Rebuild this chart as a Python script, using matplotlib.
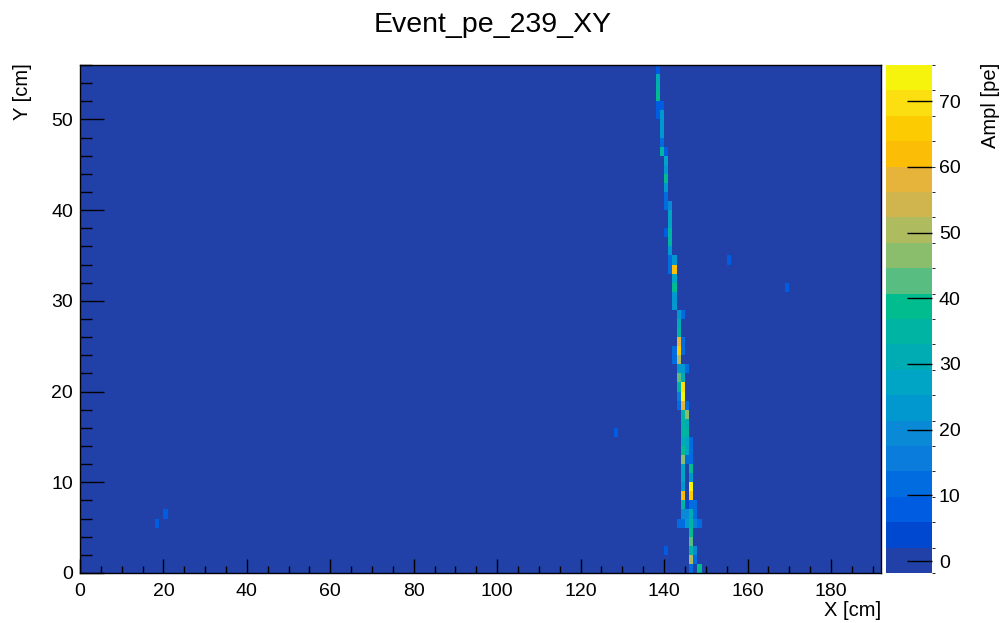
import numpy as np
import matplotlib
matplotlib.use('Agg')
import matplotlib.pyplot as plt
from matplotlib.colors import ListedColormap, BoundaryNorm
from matplotlib.ticker import MultipleLocator

plt.rcParams['font.family'] = ['Liberation Sans', 'DejaVu Sans']

title = "Event_pe_239_XY"
x_label = "X [cm]"
y_label = "Y [cm]"
z_label = "Ampl [pe]"

n_x_bins = 192   # 1 cm bins, 0..192 cm
n_y_bins = 56    # 1 cm bins, 0..56 cm
z_min = -1.8
z_max = 75.5
n_levels = 20
z_ticks = [0, 10, 20, 30, 40, 50, 60, 70]

# non-empty cells: x bin index, y bin index, amplitude [pe]
cell_x = [138, 138, 138, 138, 138, 138,
          139, 139, 139, 139, 139, 139,
          140, 140, 140, 140, 140, 140, 140, 140, 140,
          141, 141, 141, 141, 141, 141, 141, 141,
          142, 142, 142, 142, 142, 142, 142, 142,
          143, 143, 143, 143, 143, 143, 143, 143, 143, 143, 143, 143,
          144, 144, 144, 144, 144, 144, 144, 144, 144, 144, 144, 144, 144, 144, 144, 144, 144, 144, 144, 144, 144,
          145, 145, 145, 145, 145, 145, 145, 145, 145, 145, 145,
          146, 146, 146, 146, 146, 146, 146, 146, 146, 146, 146, 146, 146, 146, 146,
          147, 147, 147, 147, 147,
          148, 148,
          18, 20, 128, 155, 169]
cell_y = [55, 54, 53, 52, 51, 50,
          51, 50, 49, 48, 47, 46,
          46, 45, 44, 43, 42, 41, 40, 37, 2,
          40, 39, 38, 37, 36, 35, 34, 33,
          34, 33, 32, 31, 30, 29, 24, 23,
          28, 27, 26, 25, 24, 23, 22, 21, 20, 19, 18, 5,
          28, 25, 24, 22, 21, 20, 19, 18, 17, 16, 15, 14, 13, 12, 11, 10, 9, 8, 7, 6, 5,
          22, 18, 17, 16, 15, 14, 13, 12, 7, 6, 5,
          14, 13, 12, 11, 10, 9, 8, 7, 6, 5, 4, 3, 2, 1, 0,
          7, 6, 5, 2, 1,
          5, 0,
          5, 6, 15, 34, 31]
cell_amp = [9, 32, 33, 38, 7, 7,
            9, 24, 25, 23, 13, 36,
            9, 26, 25, 39, 25, 12, 11, 9, 8,
            18, 27, 28, 36, 34, 24, 12, 11,
            22, 62, 28, 38, 25, 24, 12, 12,
            22, 30, 35, 58, 64, 50, 25, 42, 34, 15, 12, 10,
            12, 10, 12, 24, 30, 68, 75, 60, 36, 34, 33, 32, 38, 46, 26, 27, 25, 62, 36, 18, 10,
            11, 12, 45, 32, 33, 26, 27, 10, 4, 20, 24,
            12, 12, 10, 38, 25, 72, 66, 10, 30, 33, 38, 44, 34, 50, 10,
            10, 10, 16, 20, 10,
            10, 38,
            8, 8, 8, 7, 8]

palette = ['#2141a9', '#0048d0', '#005ce0', '#006ce0', '#0a7cdc', '#0a8ad6',
           '#0098ce', '#00a4c4', '#00acb4', '#00b4a4', '#00bc8e', '#58bd80',
           '#8abd6c', '#aebb5e', '#d0b44e', '#e6b43a', '#fcbd06', '#fccb02',
           '#fbdf10', '#f6f40c']

Z = np.zeros((n_y_bins, n_x_bins))
Z[np.array(cell_y), np.array(cell_x)] = cell_amp

fig = plt.figure(figsize=(10, 6.23), dpi=100)
ax = fig.add_axes([0.080, 0.0803, 0.801, 0.8154])
cax = fig.add_axes([0.886, 0.0803, 0.046, 0.8154])

bounds = np.linspace(z_min, z_max, n_levels + 1)
cmap = ListedColormap(palette)
norm = BoundaryNorm(bounds, cmap.N)
mesh = ax.pcolormesh(np.arange(n_x_bins + 1), np.arange(n_y_bins + 1), Z,
                     cmap=cmap, norm=norm, shading='flat')
ax.set_xlim(0, n_x_bins)
ax.set_ylim(0, n_y_bins)

ax.xaxis.set_major_locator(MultipleLocator(20))
ax.xaxis.set_minor_locator(MultipleLocator(5))
ax.yaxis.set_major_locator(MultipleLocator(10))
ax.yaxis.set_minor_locator(MultipleLocator(2))
ax.tick_params(axis='x', which='major', direction='in', length=10, width=1,
               pad=7, labelsize=14, top=False)
ax.tick_params(axis='x', which='minor', direction='in', length=5, width=1, top=False)
ax.tick_params(axis='y', which='major', direction='in', length=17, width=1,
               pad=5, labelsize=14, right=False)
ax.tick_params(axis='y', which='minor', direction='in', length=8.5, width=1, right=False)
for s in ax.spines.values():
    s.set_linewidth(1)

cb = fig.colorbar(mesh, cax=cax, ticks=z_ticks, spacing='proportional')
cb.outline.set_visible(False)
cb.ax.tick_params(direction='in', length=18, width=1, pad=5, labelsize=14)
cb.ax.set_yticklabels([str(t) for t in z_ticks])

fig.text(0.493, 0.9486, title, ha='center', va='baseline', fontsize=20.5)
fig.text(0.881, 0.0112, x_label, ha='right', va='baseline', fontsize=14.5)
fig.text(0.022, 0.8985, y_label, ha='center', va='top', rotation=90, fontsize=14.5)
fig.text(0.990, 0.8985, z_label, ha='center', va='top', rotation=90, fontsize=14.5)

fig.savefig('out.png', dpi=100)
